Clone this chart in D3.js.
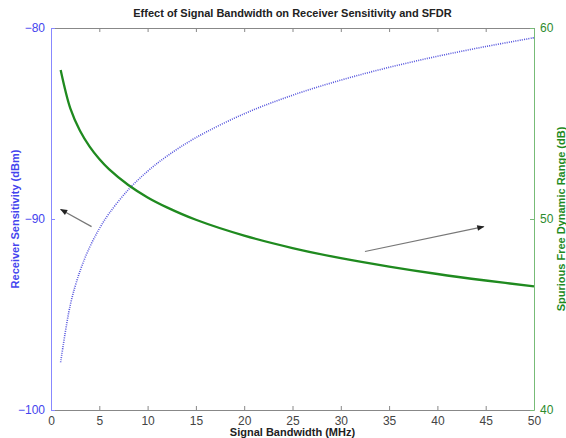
<!DOCTYPE html>
<html>
<head>
<meta charset="utf-8">
<script src="https://cdn.jsdelivr.net/npm/d3@7"></script>
<style>
  body { margin: 0; background: #fff; }
  text { font-family: "Liberation Sans", Arial, sans-serif; }
</style>
</head>
<body>
<script>
// bandwidth in MHz
var bandwidth = [1, 2, 3, 4, 5, 6, 8, 10, 12, 15, 20, 25, 30, 35, 40, 45, 50];
// receiver sensitivity (dBm), left axis
var sensitivity = [-97.5, -94.49, -92.73, -91.48, -90.51, -89.72, -88.47, -87.5, -86.71, -85.74, -84.49, -83.52, -82.73, -82.06, -81.48, -80.97, -80.51];
// spurious free dynamic range (dB), right axis
var sfdr = [57.8, 55.79, 54.62, 53.79, 53.14, 52.61, 51.78, 51.13, 50.61, 49.96, 49.13, 48.48, 47.95, 47.51, 47.12, 46.78, 46.47];
var xTicks = [0, 5, 10, 15, 20, 25, 30, 35, 40, 45, 50];
var leftTicks = [-100, -90, -80];
var rightTicks = [40, 50, 60];
// annotation arrows: [x0, y0, x1, y1] in data units
var arrowLeft = [4.2, -90.4, 1.0, -89.5];
var arrowRight = [32.5, 48.3, 44.8, 49.6];

var W = 566, H = 438;
var m = {left: 51, right: 32, top: 28, bottom: 28};

var svg = d3.select("body").append("svg")
  .attr("width", W)
  .attr("height", H);

var x = d3.scaleLinear().domain([0, 50]).range([m.left, W - m.right]);
var yL = d3.scaleLinear().domain([-100, -80]).range([H - m.bottom, m.top]);
var yR = d3.scaleLinear().domain([40, 60]).range([H - m.bottom, m.top]);

var grey = "#888", blue = "#4444ee", green = "#1f8a1f";

svg.append("defs").append("marker")
  .attr("id", "ah")
  .attr("viewBox", "0 0 10 10")
  .attr("refX", 9).attr("refY", 5)
  .attr("markerWidth", 7).attr("markerHeight", 6)
  .attr("orient", "auto")
  .append("path").attr("d", "M0,1 L10,5 L0,9 Z").attr("fill", "#222");

// bottom and top axes
var xb = svg.append("g").attr("transform", "translate(0," + (H - m.bottom) + ")")
  .call(d3.axisBottom(x).tickValues(xTicks).tickSizeInner(-4).tickSizeOuter(0).tickPadding(6));
var xt = svg.append("g").attr("transform", "translate(0," + m.top + ")")
  .call(d3.axisTop(x).tickValues(xTicks).tickSizeInner(-4).tickSizeOuter(0).tickFormat(""));
[xb, xt].forEach(function (g) {
  g.select(".domain").attr("stroke", grey);
  g.selectAll(".tick line").attr("stroke", grey);
  g.selectAll("text").attr("fill", "#444").attr("font-size", 12)
    .attr("font-family", "Liberation Sans, Arial, sans-serif");
});

// left axis
var gl = svg.append("g").attr("transform", "translate(" + m.left + ",0)")
  .call(d3.axisLeft(yL).tickValues(leftTicks).tickSizeInner(-4).tickSizeOuter(0).tickPadding(6));
gl.select(".domain").attr("stroke", "#8888ff");
gl.selectAll(".tick line").attr("stroke", "#8888ff");
gl.selectAll("text").attr("fill", blue).attr("font-size", 12)
  .attr("font-family", "Liberation Sans, Arial, sans-serif");

// right axis
var gr = svg.append("g").attr("transform", "translate(" + (W - m.right) + ",0)")
  .call(d3.axisRight(yR).tickValues(rightTicks).tickSizeInner(-4).tickSizeOuter(0).tickPadding(6));
gr.select(".domain").attr("stroke", "#77bb77");
gr.selectAll(".tick line").attr("stroke", "#77bb77");
gr.selectAll("text").attr("fill", "#2e8b2e").attr("font-size", 12)
  .attr("font-family", "Liberation Sans, Arial, sans-serif");

// sensitivity, dotted blue
var lineL = d3.line().curve(d3.curveCatmullRom.alpha(0.5))
  .x(function (d, i) { return x(bandwidth[i]); })
  .y(function (d) { return yL(d); });
svg.append("path").datum(sensitivity)
  .attr("d", lineL)
  .attr("fill", "none")
  .attr("stroke", "#5555dd")
  .attr("stroke-width", 1.6)
  .attr("stroke-dasharray", "1,1.2");

// SFDR, solid green
var lineR = d3.line().curve(d3.curveCatmullRom.alpha(0.5))
  .x(function (d, i) { return x(bandwidth[i]); })
  .y(function (d) { return yR(d); });
svg.append("path").datum(sfdr)
  .attr("d", lineR)
  .attr("fill", "none")
  .attr("stroke", green)
  .attr("stroke-width", 2.3);

// arrows
svg.append("line")
  .attr("x1", x(arrowLeft[0])).attr("y1", yL(arrowLeft[1]))
  .attr("x2", x(arrowLeft[2])).attr("y2", yL(arrowLeft[3]))
  .attr("stroke", "#777").attr("stroke-width", 1.2)
  .attr("marker-end", "url(#ah)");
svg.append("line")
  .attr("x1", x(arrowRight[0])).attr("y1", yR(arrowRight[1]))
  .attr("x2", x(arrowRight[2])).attr("y2", yR(arrowRight[3]))
  .attr("stroke", "#777").attr("stroke-width", 1.2)
  .attr("marker-end", "url(#ah)");

// title and labels
svg.append("text")
  .attr("x", (m.left + W - m.right) / 2).attr("y", 17)
  .attr("text-anchor", "middle")
  .attr("font-size", 11).attr("font-weight", "bold").attr("fill", "#222")
  .text("Effect of Signal Bandwidth on Receiver Sensitivity and SFDR");

svg.append("text")
  .attr("x", (m.left + W - m.right) / 2).attr("y", 436)
  .attr("text-anchor", "middle")
  .attr("font-size", 11).attr("font-weight", "bold").attr("fill", "#222")
  .text("Signal Bandwidth (MHz)");

svg.append("text")
  .attr("transform", "translate(19," + ((m.top + H - m.bottom) / 2) + ") rotate(-90)")
  .attr("text-anchor", "middle")
  .attr("font-size", 11).attr("font-weight", "bold").attr("fill", blue)
  .text("Receiver Sensitivity (dBm)");

svg.append("text")
  .attr("transform", "translate(565," + ((m.top + H - m.bottom) / 2) + ") rotate(-90)")
  .attr("text-anchor", "middle")
  .attr("font-size", 11).attr("font-weight", "bold").attr("fill", green)
  .text("Spurious Free Dynamic Range (dB)");
</script>
</body>
</html>
